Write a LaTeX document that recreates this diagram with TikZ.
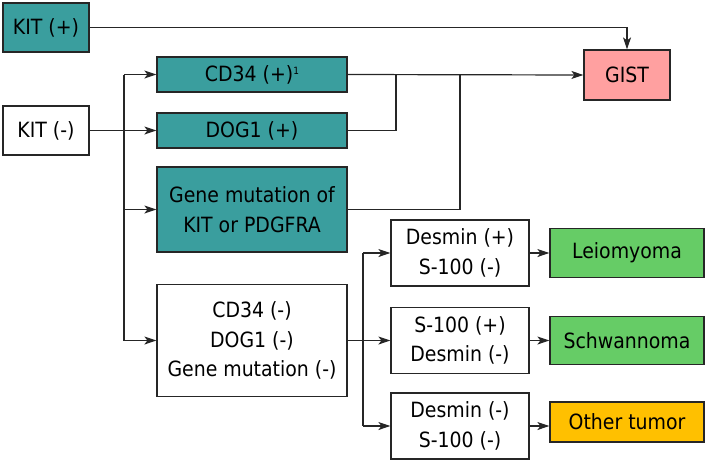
\documentclass[tikz,border=0pt]{standalone}
\usepackage{fontspec}
\setmainfont{DejaVu Sans Condensed}
\usetikzlibrary{arrows.meta}
\definecolor{teal1}{HTML}{3A9E9E}
\definecolor{pink1}{HTML}{FFA0A0}
\definecolor{green1}{HTML}{66CC66}
\definecolor{orange1}{HTML}{FFC000}
\definecolor{edge1}{HTML}{262626}
\tikzset{
  box/.style={draw=edge1, line width=1.2pt, inner sep=0pt, align=center, anchor=center,
    font=\fontsize{21}{29.5}\selectfont, text=black},
  arr/.style={line width=1.2pt, draw=edge1, arrows={-Stealth[length=12pt, width=8pt, inset=3pt]}},
  ln/.style={line width=1.2pt, draw=edge1},
}
\begin{document}
\begin{tikzpicture}[x=1pt,y=-1pt]
\useasboundingbox (0,0) rectangle (708,463);
\node[box, fill=teal1, minimum width=86, minimum height=49] (kitp) at (46,27.5) {KIT (+)};
\node[box, fill=white, minimum width=86, minimum height=49] (kitm) at (46,130.5) {KIT (-)};
\node[box, fill=teal1, minimum width=190, minimum height=35] (cd34p) at (252,74.5) {CD34 (+)\raisebox{7pt}{\fontsize{10}{10}\selectfont 1}};
\node[box, fill=teal1, minimum width=190, minimum height=35] (dog1p) at (252,130.5) {DOG1 (+)};
\node[box, fill=teal1, minimum width=190, minimum height=85] (gene) at (252,209.5) {Gene mutation of\\KIT or PDGFRA};
\node[box, fill=white, minimum width=190, minimum height=112] (cd34n) at (252,340.5) {CD34 (-)\\DOG1 (-)\\Gene mutation (-)};
\node[box, fill=pink1, minimum width=86, minimum height=50] (gist) at (627,75) {GIST};
\node[box, fill=white, minimum width=138, minimum height=66] (d1) at (460,253) {Desmin (+)\\S-100 (-)};
\node[box, fill=white, minimum width=138, minimum height=66] (d2) at (460,340.5) {S-100 (+)\\Desmin (-)};
\node[box, fill=white, minimum width=138, minimum height=66] (d3) at (460,426) {Desmin (-)\\S-100 (-)};
\node[box, fill=green1, minimum width=154, minimum height=49] (leio) at (627,253) {Leiomyoma};
\node[box, fill=green1, minimum width=154, minimum height=48] (schw) at (627,340.5) {Schwannoma};
\node[box, fill=orange1, minimum width=154, minimum height=40] (other) at (627,422) {Other tumor};
% coordinates
\coordinate (tA) at (124,74.5);
\coordinate (tB) at (124,340.5);
\coordinate (j1) at (396,75);
\coordinate (j2) at (460,75);
\coordinate (s0) at (363,340.5);
\coordinate (s1) at (363,253);
\coordinate (s3) at (363,426);
% connectors
\draw[arr] (kitp.east) -| (gist.north);
\draw[arr] (kitm.east) -- (dog1p.west);
\draw[ln] (tA) -- (tB);
\draw[arr] (tA) -- (cd34p.west);
\draw[arr] (tA |- gene.west) -- (gene.west);
\draw[arr] (tB) -- (cd34n.west);
\draw[arr] (cd34p.east) -- (gist.west);
\draw[ln] (dog1p.east) -| (j1);
\draw[ln] (gene.east) -| (j2);
\draw[ln] (cd34n.east) -- (s0);
\draw[ln] (s1) -- (s3);
\draw[arr] (s1) -- (d1.west);
\draw[arr] (s0) -- (d2.west);
\draw[arr] (s3) -- (d3.west);
\draw[arr] (d1.east) -- (leio.west);
\draw[arr] (d2.east) -- (schw.west);
\draw[arr] (d3.east) -- (d3.east -| other.west);
\end{tikzpicture}
\end{document}
